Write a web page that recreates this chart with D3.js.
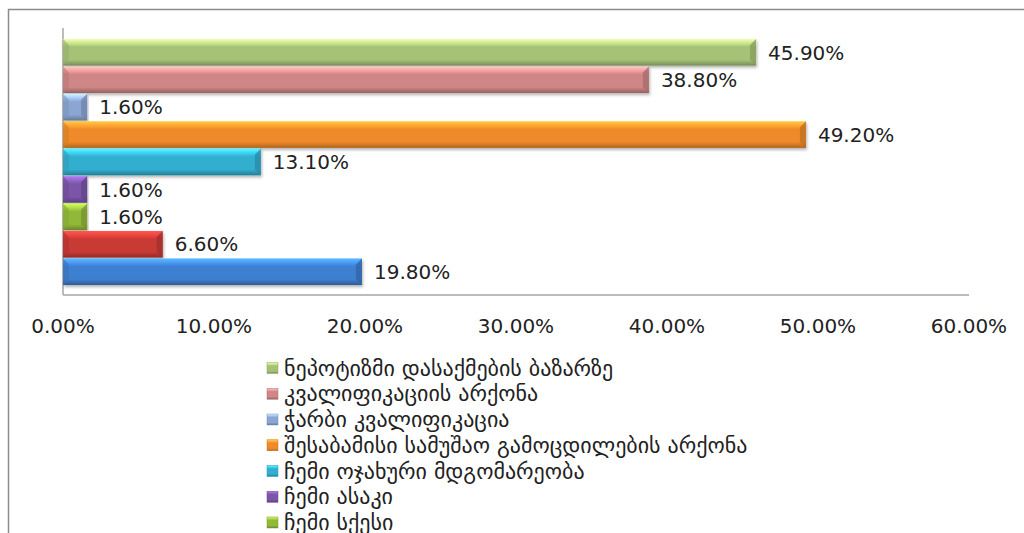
<!DOCTYPE html>
<meta charset="utf-8">
<style>
body { margin: 0; background: #fff; }
svg text { font-family: "DejaVu Sans", sans-serif; fill: #222; }
</style>
<body>
<div id="chart"></div>
<script src="https://d3js.org/d3.v7.min.js"></script>
<script>

// categories (series) top to bottom, as in the legend
var categories = [
    "ნეპოტიზმი დასაქმების ბაზარზე",
    "კვალიფიკაციის არქონა",
    "ჭარბი კვალიფიკაცია",
    "შესაბამისი სამუშაო გამოცდილების არქონა",
    "ჩემი ოჯახური მდგომარეობა",
    "ჩემი ასაკი",
    "ჩემი სქესი",
    "ჩემი ეთნიკური წარმომავლობა",
    "სხვა"
];
var values = [45.9, 38.8, 1.6, 49.2, 13.1, 1.6, 1.6, 6.6, 19.8];
var colors = ["#a6c276", "#cf8686", "#8ba6d2", "#ee8a2a", "#33aecf", "#7a55a8", "#92b83a", "#c83a35", "#3e7fd0"];
var tickValues = [0, 10, 20, 30, 40, 50, 60];

var W = 1024, H = 533;
var plot = {left: 63, right: 969, top: 28, bottom: 295};

var svg = d3.select("#chart").append("svg")
    .attr("width", W)
    .attr("height", H);

var defs = svg.append("defs");

// outer frame (cut off at right / bottom)
svg.append("rect")
    .attr("x", 8.5).attr("y", 9.5)
    .attr("width", W + 10).attr("height", H + 10)
    .attr("fill", "none")
    .attr("stroke", "#8c8c8c")
    .attr("stroke-width", 1.5);

var x = d3.scaleLinear()
    .domain([0, 60])
    .range([plot.left, plot.right]);

var y = d3.scaleBand()
    .domain(categories)
    .range([39, 285])
    .paddingInner(0.03);

// gradients per colour
colors.forEach(function(c, i){
    var g = defs.append("linearGradient")
        .attr("id", "grad" + i)
        .attr("x1", 0).attr("y1", 0).attr("x2", 0).attr("y2", 1);
    var base = d3.color(c);
    g.append("stop").attr("offset", "0%").attr("stop-color", base.brighter(1.1));
    g.append("stop").attr("offset", "18%").attr("stop-color", base.brighter(0.45));
    g.append("stop").attr("offset", "30%").attr("stop-color", base);
    g.append("stop").attr("offset", "78%").attr("stop-color", base);
    g.append("stop").attr("offset", "100%").attr("stop-color", base.darker(0.9));
});

// shadow
var f = defs.append("filter").attr("id", "shadow")
    .attr("x", "-5%").attr("y", "-20%").attr("width", "110%").attr("height", "160%");
f.append("feDropShadow")
    .attr("dx", 1).attr("dy", 2).attr("stdDeviation", 1.5)
    .attr("flood-color", "#000").attr("flood-opacity", 0.3);

// axes lines
svg.append("line")
    .attr("x1", plot.left).attr("x2", plot.left)
    .attr("y1", plot.top).attr("y2", plot.bottom)
    .attr("stroke", "#a6a6a6").attr("stroke-width", 1.5);
svg.append("line")
    .attr("x1", plot.left).attr("x2", plot.right)
    .attr("y1", plot.bottom).attr("y2", plot.bottom)
    .attr("stroke", "#a6a6a6").attr("stroke-width", 1.5);

// bars
var bars = svg.selectAll(".bar")
    .data(values)
    .enter().append("g")
    .attr("class", "bar")
    .attr("filter", "url(#shadow)");

bars.each(function(v, i){
    var g = d3.select(this),
        x0 = x(0), x1 = x(v),
        y0 = y(categories[i]), h = y.bandwidth(),
        b = Math.min(6, (x1 - x0) / 3),
        base = d3.color(colors[i]);

    g.append("rect")
        .attr("x", x0).attr("y", y0)
        .attr("width", x1 - x0).attr("height", h)
        .attr("fill", "url(#grad" + i + ")");

    // right end bevel
    g.append("path")
        .attr("d", "M" + (x1 - b) + "," + (y0 + b) + "L" + x1 + "," + y0 + "L" + x1 + "," + (y0 + h) + "L" + (x1 - b) + "," + (y0 + h - b) + "Z")
        .attr("fill", base.darker(0.6))
        .attr("opacity", 0.8);
    // left end bevel
    g.append("path")
        .attr("d", "M" + x0 + "," + y0 + "L" + (x0 + b) + "," + (y0 + b) + "L" + (x0 + b) + "," + (y0 + h - b) + "L" + x0 + "," + (y0 + h) + "Z")
        .attr("fill", base.darker(0.3))
        .attr("opacity", 0.6);
});

// value labels
svg.selectAll(".val")
    .data(values)
    .enter().append("text")
    .attr("class", "val")
    .attr("x", d => x(d) + 12)
    .attr("y", (d, i) => y(categories[i]) + y.bandwidth() / 2)
    .attr("dy", "0.36em")
    .attr("font-size", 20)
    .text(d => d3.format(".2f")(d) + "%");

// x tick labels
svg.selectAll(".tick")
    .data(tickValues)
    .enter().append("text")
    .attr("class", "tick")
    .attr("x", d => x(d))
    .attr("y", 333)
    .attr("text-anchor", "middle")
    .attr("font-size", 20)
    .text(d => d3.format(".2f")(d) + "%");

// legend
var legend = svg.append("g").attr("class", "legend");
var item = legend.selectAll("g")
    .data(categories)
    .enter().append("g")
    .attr("transform", (d, i) => "translate(267," + (368 + i * 25.75) + ")");

item.append("rect")
    .attr("x", 0).attr("y", -5.5)
    .attr("width", 11).attr("height", 11)
    .attr("fill", (d, i) => "url(#grad" + i + ")")
    .attr("stroke", (d, i) => d3.color(colors[i]).darker(0.4))
    .attr("stroke-width", 0.5);

item.append("text")
    .attr("x", 17)
    .attr("dy", "0.35em")
    .attr("font-size", 22)
    .text(d => d);

</script>
